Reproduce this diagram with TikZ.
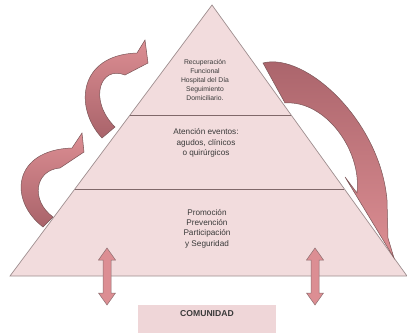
\documentclass[tikz,border=0pt]{standalone}
\usepackage{fontspec}
\setmainfont{Liberation Sans}
\usetikzlibrary{calc}
\definecolor{pyrfill}{HTML}{F2DCDD}
\definecolor{pyrline}{HTML}{9E8E8F}
\definecolor{tierline}{HTML}{806869}
\definecolor{arrowdark}{HTML}{A9636A}
\definecolor{arrowlight}{HTML}{DC8E93}
\definecolor{arrowline}{HTML}{7A5557}
\definecolor{boxfill}{HTML}{EFD6D8}
\definecolor{txt}{HTML}{3A3A3A}

\begin{document}
\begin{tikzpicture}[x=1pt, y=-1pt,
    every node/.style = {align=center, text=txt, inner sep=0pt},
    tier/.style = {draw=tierline, line width=0.9pt},
    curvearrow/.style = {draw=arrowline, line width=0.5pt},
    updown/.style = {draw=arrowline!85, fill=arrowlight, line width=0.5pt}
    ]
    \useasboundingbox (0,0) rectangle (407,334);

    % pyramid
    \coordinate (apex) at (212,5);
    \coordinate (baseL) at (10,276);
    \coordinate (baseR) at (407,276);
    \draw[draw=pyrline, fill=pyrfill, line width=0.7pt] (baseL) -- (apex) -- (baseR) -- cycle;
    \draw[tier] ($(apex)!0.406!(baseL)$) -- ($(apex)!0.406!(baseR)$);
    \draw[tier] ($(apex)!0.679!(baseL)$) -- ($(apex)!0.679!(baseR)$);

    \node[font=\fontsize{6.8}{9}\selectfont] (top) at (205,80)
        {Recuperación\\Funcional\\Hospital del Día\\Seguimiento\\Domiciliario.};
    \node[font=\fontsize{8.2}{10.8}\selectfont] (mid) at (206,143)
        {Atención eventos:\\agudos, clínicos\\o quirúrgicos};
    \node[font=\fontsize{8.2}{10.4}\selectfont] (low) at (207,228.5)
        {Promoción\\Prevención\\Participación\\y Seguridad};

    % curved arrows
    \draw[curvearrow, top color=arrowlight, bottom color=arrowdark]
        (102,138) .. controls (74,108) and (78,55) .. (137,53)
        -- (145,40) -- (148,63) -- (125,75)
        .. controls (100,65) and (88,100) .. (115,127) -- cycle;
    \draw[curvearrow, top color=arrowlight, bottom color=arrowdark]
        (43,227) .. controls (8,200) and (13,150) .. (72,148)
        -- (82,133) -- (84,152) -- (60,168)
        .. controls (35,170) and (30,200) .. (53,217) -- cycle;
    \draw[curvearrow, top color=arrowdark, bottom color=arrowlight]
        (263,63) .. controls (305,52) and (380,120) .. (387,200)
        -- (388,238) -- (394,258) -- (345,177) -- (357,193)
        .. controls (362,150) and (325,100) .. (285,103) -- cycle;

    % up-down arrows
    \foreach \x in {107, 315}
      \draw[updown] (\x,248) -- ++(8.5,12) -- ++(-4.5,0) -- (\x+4,293) -- ++(4.5,0)
        -- (\x,305) -- ++(-8.5,-12) -- ++(4.5,0) -- (\x-4,260) -- ++(-4.5,0) -- cycle;

    \node[fill=boxfill, minimum width=138pt, minimum height=28pt] (box) at (207,319) {};
    \node[font=\fontsize{8.6}{10}\selectfont\bfseries] (comunidad) at (207,314) {COMUNIDAD};
\end{tikzpicture}
\end{document}
